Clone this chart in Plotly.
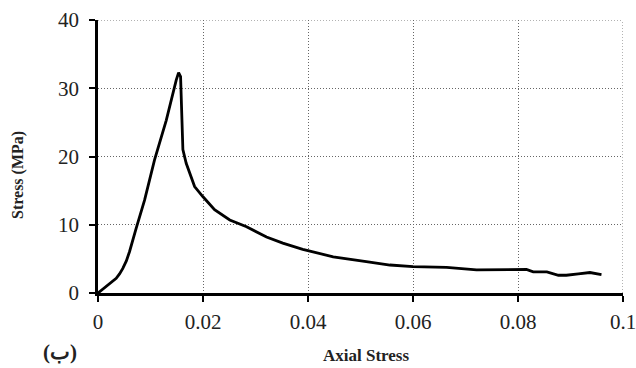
import plotly.graph_objects as go

strain = [0.0, 0.0018, 0.00347, 0.0041, 0.00473, 0.0054, 0.0060, 0.00728, 0.00887, 0.01077,
          0.0130, 0.0149, 0.01535, 0.01573, 0.01598, 0.01617, 0.0168, 0.0184, 0.0200, 0.0222,
          0.0251, 0.0283, 0.0321, 0.0352, 0.0390, 0.0420, 0.0448, 0.0511, 0.0556, 0.0600,
          0.0664, 0.0721, 0.0778, 0.0816, 0.0829, 0.0855, 0.0877, 0.0892, 0.0915, 0.0937,
          0.0959]
stress = [0.0, 1.1, 2.15, 2.8, 3.6, 4.7, 6.05, 9.5, 13.6, 19.5,
          25.3, 31.2, 32.3, 31.7, 24.4, 21.0, 19.0, 15.6, 14.1, 12.2,
          10.7, 9.7, 8.2, 7.3, 6.4, 5.8, 5.3, 4.6, 4.1, 3.85,
          3.75, 3.4, 3.4, 3.45, 3.1, 3.1, 2.6, 2.6, 2.8, 3.0,
          2.7]

x_ticks = [0, 0.02, 0.04, 0.06, 0.08, 0.1]
x_tick_labels = ["0", "0.02", "0.04", "0.06", "0.08", "0.1"]
y_ticks = [0, 10, 20, 30, 40]
y_tick_labels = ["0", "10", "20", "30", "40"]

x_title = "Axial Stress"
y_title = "Stress (MPa)"
panel_label = "(ب)"

serif = "Liberation Serif, Times New Roman, serif"
grid_color = "#666"
grid_dash = "1px,2px"

fig = go.Figure()
fig.add_trace(go.Scatter(x=strain, y=stress, mode="lines",
                         line=dict(color="black", width=2.8),
                         showlegend=False))

# grid lines on the far edges (plotly drops gridlines at the range ends)
fig.add_shape(type="line", xref="x", yref="paper", x0=x_ticks[-1], x1=x_ticks[-1], y0=0, y1=1,
              line=dict(color=grid_color, width=1, dash=grid_dash), layer="below")
fig.add_shape(type="line", xref="paper", yref="y", x0=0, x1=1, y0=y_ticks[-1], y1=y_ticks[-1],
              line=dict(color=grid_color, width=1, dash=grid_dash), layer="below")

axis_common = dict(showline=True, linecolor="black", linewidth=2.5,
                   ticks="outside", ticklen=6, tickwidth=2, tickcolor="black",
                   tickfont=dict(size=21, family=serif, color="#222"),
                   showgrid=True, gridcolor=grid_color, gridwidth=1, griddash=grid_dash,
                   zeroline=False, fixedrange=True, ticklabeloverflow="allow",
                   automargin=False)

fig.update_layout(
    width=636, height=368,
    margin=dict(l=98, r=13, t=20, b=75),
    paper_bgcolor="white", plot_bgcolor="white",
    font=dict(family=serif, color="black"),
    xaxis=dict(range=[0, 0.1], tickvals=x_ticks, ticktext=x_tick_labels,
               ticklabelstandoff=2, **axis_common),
    yaxis=dict(range=[0, 40], tickvals=y_ticks, ticktext=y_tick_labels,
               ticklabelstandoff=6, **axis_common),
    annotations=[
        dict(text="<b>" + x_title + "</b>", xref="paper", yref="paper",
             x=(366 - 98.5) / 525, y=0, yshift=-62, showarrow=False,
             font=dict(size=17, family=serif, color="#222"),
             xanchor="center", yanchor="middle"),
        dict(text="<b>" + y_title + "</b>", xref="paper", yref="paper",
             x=0, xshift=-80, y=(293 - 175) / 273, showarrow=False, textangle=-90,
             font=dict(size=16, family=serif, color="#222"),
             xanchor="center", yanchor="middle"),
        dict(text="<b>" + panel_label + "</b>", xref="paper", yref="paper",
             x=0, xshift=-38.5, y=0, yshift=-59, showarrow=False,
             font=dict(size=21, family=serif, color="#222"),
             xanchor="center", yanchor="middle"),
    ],
)

fig.write_html("out.html")
